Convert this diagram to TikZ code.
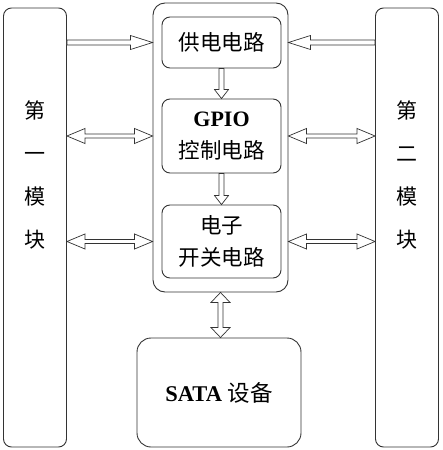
\documentclass[tikz,border=0pt]{standalone}
\usepackage{fontspec}
\setmainfont{Liberation Serif}
\newfontfamily\cjk{Noto Sans CJK SC}
\usetikzlibrary{calc}

\begin{document}
\begin{tikzpicture}[x=1pt,y=-1pt,
    box/.style={draw=black!80,line width=0.9pt,inner sep=0pt},
    module/.style={box,rounded corners=8pt,minimum width=63pt,minimum height=439pt},
    unit/.style={box,rounded corners=8pt,minimum width=119pt,align=center,
      font=\fontsize{21.5}{32}\selectfont\cjk},
    vlabel/.style={align=center,inner sep=0pt,font=\fontsize{21}{43}\selectfont\cjk},
    onearrow/.style n args={3}{draw=black!80,line width=0.7pt,fill=white,to path={
      let \p1=(\tikztostart), \p2=(\tikztotarget), \p3=($(\p2)!#3pt!(\p1)$) in
      ($(\p1)!#1pt!90:(\p2)$) -- ($(\p3)!#1pt!90:(\p2)$) -- ($(\p3)!#2pt!90:(\p2)$)
      -- (\p2) -- ($(\p3)!#2pt!-90:(\p2)$) -- ($(\p3)!#1pt!-90:(\p2)$)
      -- ($(\p1)!#1pt!-90:(\p2)$) -- cycle}},
    twoarrow/.style n args={3}{draw=black!80,line width=0.7pt,fill=white,to path={
      let \p1=(\tikztostart), \p2=(\tikztotarget), \p3=($(\p2)!#3pt!(\p1)$),
          \p4=($(\p1)!#3pt!(\p2)$) in
      (\p1) -- ($(\p4)!#2pt!90:(\p2)$) -- ($(\p4)!#1pt!90:(\p2)$)
      -- ($(\p3)!#1pt!90:(\p2)$) -- ($(\p3)!#2pt!90:(\p2)$) -- (\p2)
      -- ($(\p3)!#2pt!-90:(\p2)$) -- ($(\p3)!#1pt!-90:(\p2)$)
      -- ($(\p4)!#1pt!-90:(\p2)$) -- ($(\p4)!#2pt!-90:(\p2)$) -- cycle}}]
\useasboundingbox (0,0) rectangle (442,450);
% side modules
\node[module] (mod1) at (35,227.5) {};
\node[module] (mod2) at (407,227.5) {};
\node[vlabel] (lab1) at (35,175) {第\\一\\模\\块};
\node[vlabel] (lab2) at (407,175) {第\\二\\模\\块};
% central board
\node[box,rounded corners=12pt,minimum width=135pt,minimum height=289pt] (main) at (220.5,147.5) {};
\node[unit,minimum height=51pt] (power) at (221.5,42.5) {供电电路};
\node[unit,minimum height=74pt] (gpio) at (221.5,136)
  {{\rmfamily\bfseries\fontsize{22}{32}\selectfont GPIO}\\控制电路};
\node[unit,minimum height=73pt] (switch) at (221.5,241.5) {电子\\开关电路};
\node[box,rounded corners=14pt,minimum width=164pt,minimum height=109pt,
  font=\fontsize{22.5}{26}\selectfont] (sata) at (219,392.5) {\bfseries SATA {\cjk\mdseries 设备}};
% connectors
\draw[onearrow={2.5}{7}{22}] (mod1.east |- power) to (main.west |- power);
\draw[onearrow={2.5}{7}{22}] (mod2.west |- power) to (main.east |- power);
\draw[twoarrow={2}{7.5}{18}] (mod1.east |- gpio) to (main.west |- gpio);
\draw[twoarrow={2}{7.5}{18}] (mod2.west |- gpio) to (main.east |- gpio);
\draw[twoarrow={2}{7.5}{18}] (mod1.east |- switch) to (main.west |- switch);
\draw[twoarrow={2}{7.5}{18}] (mod2.west |- switch) to (main.east |- switch);
\draw[onearrow={2.5}{7}{9}] (power.south) to (gpio.north);
\draw[onearrow={2.5}{7}{9}] (gpio.south) to (switch.north);
\draw[twoarrow={2.5}{9.5}{10}] (main.south) to (main.south |- sata.north);
\end{tikzpicture}
\end{document}
